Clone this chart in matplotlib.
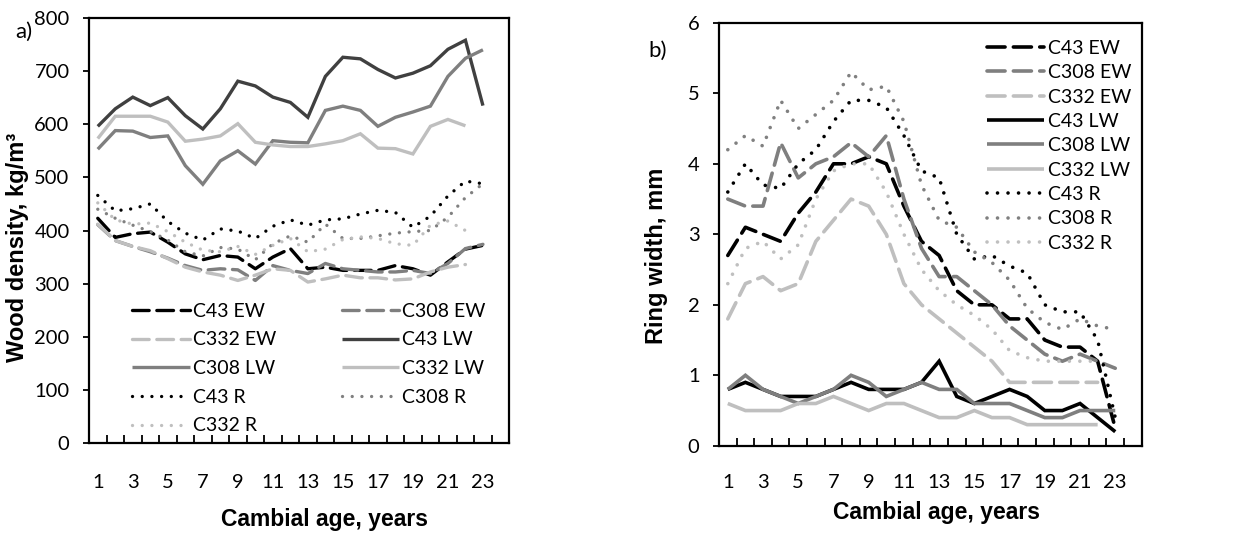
import numpy as np
import matplotlib.pyplot as plt
from matplotlib.ticker import FixedLocator, NullFormatter

# ---- data: a) wood density, kg/m3 ----
dens_c43_ew = [423, 387, 394, 397, 378, 356, 345, 353, 350, 328, 350, 366, 328, 331, 325, 325, 325, 334, 328, 316, 341, 365, 372]
dens_c308_ew = [411, 381, 370, 360, 348, 334, 325, 328, 326, 306, 334, 325, 319, 338, 328, 325, 322, 322, 325, 319, 338, 366, 374]
dens_c332_ew = [412, 381, 370, 362, 347, 331, 322, 316, 306, 316, 328, 325, 303, 309, 316, 311, 311, 307, 309, 322, 331, 336]
dens_c43_lw = [596, 629, 651, 635, 650, 616, 591, 629, 681, 672, 651, 641, 613, 690, 726, 723, 703, 687, 696, 710, 741, 758, 635]
dens_c308_lw = [553, 588, 587, 575, 578, 522, 487, 531, 550, 525, 569, 566, 565, 626, 634, 626, 596, 613, 623, 634, 690, 724, 740]
dens_c332_lw = [573, 615, 615, 615, 604, 568, 572, 578, 601, 566, 561, 558, 558, 563, 569, 582, 555, 554, 544, 596, 609, 597]
dens_c43_r = [466, 437, 441, 450, 417, 395, 382, 403, 399, 385, 408, 420, 410, 420, 422, 431, 438, 434, 406, 427, 465, 493, 488]
dens_c308_r = [440, 423, 410, 398, 382, 360, 352, 368, 365, 345, 375, 390, 378, 412, 385, 385, 390, 395, 398, 400, 425, 462, 488]
dens_c332_r = [452, 420, 412, 414, 398, 378, 363, 360, 370, 355, 372, 385, 360, 365, 383, 388, 385, 375, 372, 410, 418, 400]

# ---- data: b) ring width, mm ----
rw_c43_ew = [2.7, 3.1, 3.0, 2.9, 3.3, 3.6, 4.0, 4.0, 4.1, 4.0, 3.4, 2.9, 2.7, 2.2, 2.0, 2.0, 1.8, 1.8, 1.5, 1.4, 1.4, 1.2, 0.25]
rw_c308_ew = [3.5, 3.4, 3.4, 4.3, 3.8, 4.0, 4.1, 4.3, 4.1, 4.4, 3.5, 2.8, 2.4, 2.4, 2.2, 2.0, 1.7, 1.5, 1.3, 1.2, 1.3, 1.2, 1.1]
rw_c332_ew = [1.8, 2.3, 2.4, 2.2, 2.3, 2.9, 3.2, 3.5, 3.4, 3.0, 2.3, 2.0, 1.8, 1.6, 1.4, 1.2, 0.9, 0.9, 0.9, 0.9, 0.9, 0.9]
rw_c43_lw = [0.8, 0.9, 0.8, 0.7, 0.7, 0.7, 0.8, 0.9, 0.8, 0.8, 0.8, 0.9, 1.2, 0.7, 0.6, 0.7, 0.8, 0.7, 0.5, 0.5, 0.6, 0.4, 0.2]
rw_c308_lw = [0.8, 1.0, 0.8, 0.7, 0.6, 0.7, 0.8, 1.0, 0.9, 0.7, 0.8, 0.9, 0.8, 0.8, 0.6, 0.6, 0.6, 0.5, 0.4, 0.4, 0.5, 0.5, 0.5]
rw_c332_lw = [0.6, 0.5, 0.5, 0.5, 0.6, 0.6, 0.7, 0.6, 0.5, 0.6, 0.6, 0.5, 0.4, 0.4, 0.5, 0.4, 0.4, 0.3, 0.3, 0.3, 0.3, 0.3]
rw_c43_r = [3.6, 4.0, 3.7, 3.65, 4.0, 4.2, 4.6, 4.9, 4.9, 4.8, 4.4, 3.9, 3.8, 3.0, 2.65, 2.7, 2.55, 2.45, 2.0, 1.9, 1.9, 1.5, 0.4]
rw_c308_r = [4.2, 4.4, 4.25, 4.9, 4.5, 4.7, 4.9, 5.3, 5.05, 5.1, 4.6, 3.7, 3.2, 3.1, 2.75, 2.6, 2.35, 1.95, 1.75, 1.65, 1.8, 1.7, 1.65]
rw_c332_r = [2.3, 2.8, 2.9, 2.65, 2.85, 3.5, 3.9, 4.0, 4.0, 3.6, 3.0, 2.5, 2.2, 2.0, 1.85, 1.65, 1.35, 1.25, 1.2, 1.2, 1.2, 1.2]

names = ['C43 EW', 'C308 EW', 'C332 EW', 'C43 LW', 'C308 LW', 'C332 LW', 'C43 R', 'C308 R', 'C332 R']
tick_font = 'Lato'
label_font = 'Liberation Sans'

DASH = (0, (5, 2.3))
DOT = (0, (0.01, 2.9))


def series_styles(c43_lw_color):
    return [
        ('#000000', DASH), ('#7f7f7f', DASH), ('#bfbfbf', DASH),
        (c43_lw_color, '-'), ('#7f7f7f', '-'), ('#bfbfbf', '-'),
        ('#000000', DOT), ('#808080', DOT), ('#bfbfbf', DOT),
    ]


def draw(ax, data, styles, lw):
    handles = []
    for vals, (col, ls), name in zip(data, styles, names):
        x = np.arange(1, len(vals) + 1)
        h, = ax.plot(x, vals, color=col, linestyle=ls, lw=lw, label=name,
                     dash_capstyle='round', solid_capstyle='butt', solid_joinstyle='miter')
        handles.append(h)
    return handles


def style_axes(ax, ymax, ystep, ylabel, xpad, ypad, xlab_pos, ylab_pos):
    ax.set_xlim(0.5, 24.5)
    ax.set_ylim(0, ymax)
    ax.set_yticks(np.arange(0, ymax + ystep / 2, ystep))
    ax.set_yticklabels([('%g' % v) for v in np.arange(0, ymax + ystep / 2, ystep)],
                       fontsize=14.5, family=tick_font)
    ax.xaxis.set_major_locator(FixedLocator(np.arange(1, 24, 2)))
    ax.set_xticklabels([str(v) for v in range(1, 24, 2)], fontsize=14.5, family=tick_font)
    ax.xaxis.set_minor_locator(FixedLocator(np.arange(1.5, 24.5, 1)))
    ax.xaxis.set_minor_formatter(NullFormatter())
    ax.tick_params(axis='x', which='major', length=0, pad=xpad)
    ax.tick_params(axis='x', which='minor', direction='in', length=6, width=1.3)
    ax.tick_params(axis='y', which='major', direction='out', length=4, width=1.3, pad=ypad)
    for s in ax.spines.values():
        s.set_visible(True)
        s.set_linewidth(1.6)
        s.set_color('black')
    ax.set_xlabel('Cambial age, years', fontsize=16.5, fontweight='bold', family=label_font)
    ax.set_ylabel(ylabel, fontsize=17, fontweight='bold', family=label_font)
    ax.xaxis.set_label_coords(*xlab_pos)
    ax.yaxis.set_label_coords(*ylab_pos)
    ax.xaxis.label.set_va('center')
    ax.yaxis.label.set_va('center')


fig = plt.figure(figsize=(12.45, 5.43), dpi=100)
ax1 = fig.add_axes([0.0715, 0.184, 0.3375, 0.783])
ax2 = fig.add_axes([0.5775, 0.179, 0.3395, 0.779])

# panel a
h1 = draw(ax1, [dens_c43_ew, dens_c308_ew, dens_c332_ew, dens_c43_lw, dens_c308_lw,
                dens_c332_lw, dens_c43_r, dens_c308_r, dens_c332_r],
          series_styles('#404040'), 2.4)
style_axes(ax1, 800, 100, 'Wood density, kg/m³', 22, 10, (0.56, -0.179), (-0.171, 0.46))
order = [0, 2, 4, 6, 8, 1, 3, 5, 7]
ax1.legend([h1[i] for i in order], [names[i] for i in order], ncol=2, frameon=False,
           loc='upper left', bbox_to_anchor=(0.103, 0.33), prop={'family': tick_font, 'size': 14},
           handlelength=2.95, handletextpad=0.15, labelspacing=0.6, columnspacing=3.4,
           borderaxespad=0, borderpad=0)
fig.text(0.012, 0.93, 'a)', fontsize=16, family=tick_font)

# panel b
h2 = draw(ax2, [rw_c43_ew, rw_c308_ew, rw_c332_ew, rw_c43_lw, rw_c308_lw,
                rw_c332_lw, rw_c43_r, rw_c308_r, rw_c332_r],
          series_styles('#000000'), 2.6)
style_axes(ax2, 6, 1, 'Ring width, mm', 20, 10, (0.515, -0.158), (-0.147, 0.45))
ax2.legend(h2, names, ncol=1, frameon=False, loc='upper left', bbox_to_anchor=(0.635, 0.96),
           prop={'family': tick_font, 'size': 14}, handlelength=2.9, handletextpad=0.2,
           labelspacing=0.38, borderaxespad=0, borderpad=0)
fig.text(0.521, 0.895, 'b)', fontsize=16, family=tick_font)

fig.savefig('out.png', dpi=100)
